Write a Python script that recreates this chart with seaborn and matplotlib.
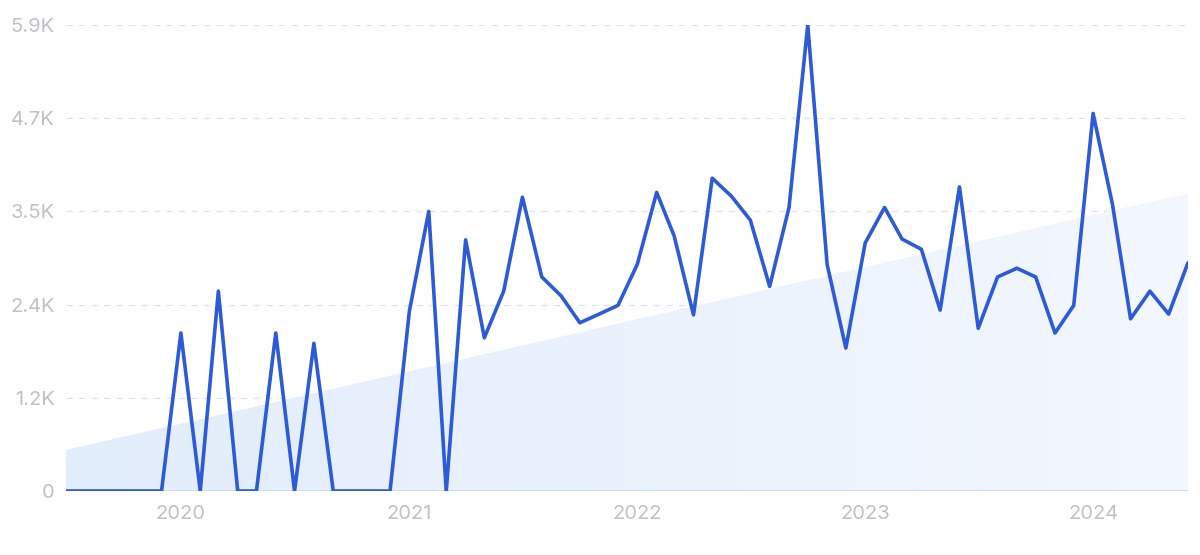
import numpy as np
import pandas as pd
import matplotlib
matplotlib.use("Agg")
import matplotlib.pyplot as plt
import matplotlib.dates as mdates
from matplotlib.patches import Polygon
import seaborn as sns

# ── Data (monthly, Jul 2019 – Jun 2024) ─────────────────────
months = pd.date_range("2019-07-01", "2024-06-01", freq="MS")
values = [
    0, 0, 0, 0, 0, 0,                                  # 2019 H2
    2000, 0, 2530, 0, 0, 2000, 0, 1870, 0, 0, 0, 0,    # 2020
    2280, 3540, 0, 3180, 1940, 2530, 3720, 2710, 2470, 2130, 2240, 2350,  # 2021
    2870, 3780, 3230, 2230, 3960, 3730, 3430, 2590, 3590, 5900, 2870, 1810,  # 2022
    3140, 3590, 3190, 3060, 2290, 3850, 2060, 2710, 2820, 2710, 2000, 2350,  # 2023
    4780, 3630, 2180, 2530, 2240, 2890,                # 2024 H1
]
trend_start = 520
trend_end = 3770
y_ticks = [0, 1180, 2360, 3540, 4720, 5900]
y_labels = ["0", "1.2K", "2.4K", "3.5K", "4.7K", "5.9K"]
x_years = ["2020", "2021", "2022", "2023", "2024"]

df = pd.DataFrame({"month": months, "value": values})

# ── Style ──────────────────────────────────────────────────
sns.set_theme(style="white")
plt.rcParams["font.family"] = ["Inter", "DejaVu Sans"]

fig = plt.figure(figsize=(12, 5.55), dpi=100)
ax = fig.add_axes([0.055, 0.1153, 0.935, 0.8397])

x0 = mdates.date2num(months[0])
x1 = mdates.date2num(months[-1])

# trend area with soft horizontal gradient
poly = Polygon([(x0, 0), (x0, trend_start), (x1, trend_end), (x1, 0)],
               closed=True, facecolor="none", edgecolor="none")
ax.add_patch(poly)
grad = np.linspace(0, 1, 256).reshape(1, -1)
cmap = matplotlib.colors.LinearSegmentedColormap.from_list("g", ["#e2edfb", "#f3f7fe"])
im = ax.imshow(grad, extent=[x0, x1, 0, trend_end], aspect="auto",
               cmap=cmap, origin="lower", zorder=1)
im.set_clip_path(poly)

sns.lineplot(data=df, x="month", y="value", ax=ax, color="#2d5bd7",
             linewidth=2.6, zorder=3)

ax.set_xlim(x0, x1)
ax.set_ylim(0, 5900)
ax.set_yticks(y_ticks)
ax.set_yticklabels(y_labels)
ax.set_xticks([mdates.date2num(pd.Timestamp(f"{y}-01-01")) for y in x_years])
ax.set_xticklabels(x_years)
ax.set_xlabel("")
ax.set_ylabel("")

for t in y_ticks[1:]:
    ax.axhline(t, color="#dde3ec", linestyle=(0, (5, 5)), linewidth=0.9, zorder=0)
ax.axhline(0, color="#c8d9f3", linewidth=1.2, zorder=2)

for s in ax.spines.values():
    s.set_visible(False)
ax.tick_params(axis="y", length=0, pad=8, labelsize=14.5, labelcolor="#bfc1c8")
ax.tick_params(axis="x", length=0, pad=10, labelsize=14.5, labelcolor="#bfc1c8")

fig.savefig("out.png", dpi=100)
